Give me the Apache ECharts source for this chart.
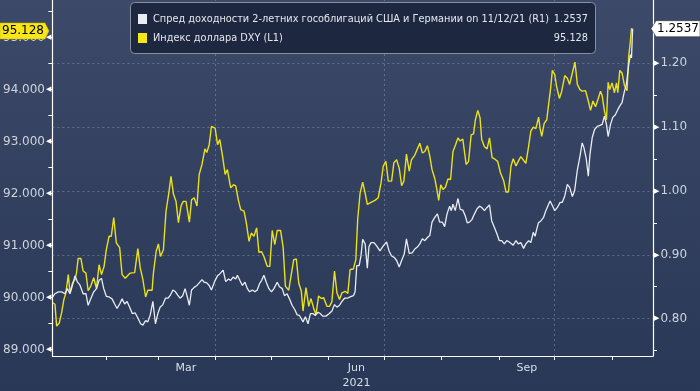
<!DOCTYPE html>
<html>
<head>
<meta charset="utf-8">
<script src="https://cdn.jsdelivr.net/npm/echarts@6/dist/echarts.min.js"></script>
<style>
html,body{margin:0;padding:0;background:#2c3a57;}
#chart{width:700px;height:391px;}
</style>
</head>
<body>
<div id="chart"></div>
<script>
// ---- DATA (days counted from 2021-01-01) ----
const dxyDays = [2.2,3.4,4.3,5.7,7.0,8.2,9.3,10.6,11.5,12.9,14.2,15.0,15.9,17.4,18.6,20.1,21.3,22.7,24.3,25.8,27.2,28.5,29.9,31.1,32.6,33.8,35.1,36.5,38.3,39.6,41.3,42.8,44.0,46.4,48.1,49.4,50.8,52.3,53.5,55.8,56.5,58.0,59.2,60.3,61.9,63.3,64.8,66.0,67.3,68.7,70.0,71.4,72.6,74.1,75.9,77.1,78.5,80.0,81.2,82.7,84.3,85.3,86.6,87.8,
89.8,91.1,92.3,93.8,95.2,96.4,98.2,99.7,100.9,102.3,103.6,105.4,106.6,108.1,109.3,110.7,112.2,113.4,114.9,116.1,117.9,119.3,120.6,122.0,123.3,125.1,126.5,127.7,129.5,131.0,132.2,133.6,134.9,136.3,137.2,138.8,140.3,141.5,142.9,144.2,145.6,147.1,148.3,150.1,151.5,152.8,154.2,155.5,156.9,158.2,159.9,161.4,162.6,164.4,165.7,166.7,168.0,169.4,170.7,171.9,173.4,
174.3,176.0,177.8,179.3,180.5,181.9,183.2,185.0,186.2,187.7,189.1,190.4,191.6,193.0,194.5,195.7,197.5,198.9,200.2,201.6,202.9,204.3,205.6,206.8,208.2,209.1,210.4,211.5,212.7,214.0,215.4,216.8,218.1,219.5,220.8,222.0,223.4,225.2,226.5,227.9,229.2,230.2,231.5,232.7,233.6,235.1,236.5,237.8,239.2,240.4,242.2,243.7,
245.5,246.7,248.0,249.4,250.6,252.1,253.3,254.7,256.0,257.4,258.9,260.1,261.4,262.8,264.3,265.1,266.0,267.3,268.7,269.9,270.8,271.7,273.0,274.0,275.5,276.7,278.4,279.8,281.0,282.5,283.9,285.2,286.6,287.8,289.6,290.9,292.3,293.6,295.0,296.3,297.7,298.6,299.8,300.9,301.8,302.7,303.9,305.2,306.3,307.0,308.1,309.3,310.6,312.0,312.9,313.8,314.4,315];
const dxyValues = [89.90,89.87,89.45,89.51,89.71,89.96,90.09,90.44,90.09,90.28,90.35,90.47,90.75,90.75,90.51,90.47,90.13,90.22,90.38,90.17,90.63,90.44,90.60,90.92,91.18,91.18,91.54,91.05,90.96,90.44,90.37,90.43,90.47,90.48,90.94,90.57,90.35,90.01,90.14,90.14,90.47,90.89,91.03,90.79,90.92,91.66,92.01,92.33,91.99,91.85,91.44,91.76,91.85,91.85,91.45,91.88,91.92,91.76,92.37,92.56,92.86,92.79,92.94,93.29,
93.26,92.94,93.04,92.72,92.37,92.46,92.11,92.17,92.15,91.88,91.69,91.66,91.44,91.08,91.24,91.18,91.34,90.87,90.88,90.79,90.60,90.60,91.29,91.02,91.29,91.29,90.96,90.22,90.14,90.47,90.73,90.74,90.28,90.12,89.74,90.19,89.83,89.98,89.80,89.67,90.03,89.98,90.00,89.83,89.83,89.92,90.51,90.09,89.96,90.09,90.12,90.08,90.54,90.55,90.73,91.50,92.01,92.22,92.01,91.79,91.82,
91.83,91.87,91.92,92.21,92.53,92.62,92.24,92.24,92.59,92.65,92.49,92.15,92.24,92.76,92.43,92.65,92.74,92.86,92.97,92.78,92.81,92.92,92.72,92.46,92.30,92.14,91.87,92.17,92.08,92.12,92.28,92.27,92.81,92.94,93.07,93.01,93.05,92.56,92.62,93.13,93.15,93.42,93.60,93.46,93.04,92.90,92.86,93.07,92.69,92.67,92.62,92.40,
92.24,92.03,92.03,92.53,92.67,92.53,92.62,92.71,92.65,92.58,92.91,93.20,93.28,93.25,93.47,93.25,93.10,93.35,93.42,93.78,94.03,94.37,94.29,94.06,93.83,93.96,94.27,94.22,94.10,94.32,94.53,94.10,94.00,93.97,93.98,93.81,93.60,93.78,93.67,93.81,93.97,93.88,93.59,93.42,94.14,94.00,94.13,93.94,94.13,93.94,94.37,94.32,94.08,93.98,94.64,94.93,95.18,95.128];

const spreadDays = [2.2,3.4,5.2,7.0,8.8,10.1,11.5,12.9,14.2,15.4,16.8,18.6,20.1,21.3,22.7,24.3,25.8,27.2,28.5,29.7,31.1,32.6,34.2,35.6,36.9,38.3,39.6,41.0,42.3,43.7,45.1,46.7,48.1,49.6,50.8,52.3,53.5,54.8,56.2,57.6,58.9,60.1,61.6,63.0,64.3,65.5,67.0,68.4,69.6,70.9,72.3,73.6,74.6,75.9,77.1,78.5,80.0,81.2,82.7,83.9,85.3,86.6,87.8,
88.4,89.8,91.1,92.3,94.1,95.5,97.0,98.2,99.5,100.9,101.8,103.1,104.5,105.9,107.2,108.4,109.9,111.3,112.5,113.8,114.9,116.1,117.4,118.8,120.2,121.5,123.3,124.5,126.0,127.2,128.6,129.9,131.3,132.8,134.0,135.3,136.3,137.2,138.5,139.9,141.2,142.6,143.8,145.3,146.5,147.8,149.6,151.4,152.8,154.2,155.5,156.9,158.2,159.6,161.2,162.6,164.4,165.3,166.2,167.5,168.5,169.4,170.7,171.9,172.8,173.9,
175.5,176.9,178.7,180.5,182.3,183.6,185.0,186.4,187.7,189.1,190.4,191.8,193.0,194.5,196.1,197.5,198.9,200.2,201.6,202.9,204.3,205.6,206.8,208.2,209.7,210.9,212.4,213.6,214.9,216.3,217.2,218.1,219.3,220.8,222.0,223.4,224.7,225.8,227.0,228.3,229.7,231.1,232.4,233.6,235.1,236.5,237.8,239.0,240.4,241.9,243.1,244.4,245.8,247.1,248.5,
249.4,250.6,252.1,253.3,254.7,256.2,257.4,258.9,260.1,261.4,262.4,263.3,264.2,265.5,266.9,268.2,269.4,270.5,271.7,273.0,274.4,275.9,277.1,278.4,279.8,281.1,282.5,283.7,285.2,286.6,287.8,288.7,290.0,291.1,292.0,293.2,294.5,295.9,297.1,298.6,299.8,300.9,301.8,303.1,304.3,305.7,307.0,308.1,309.3,310.6,311.6,312.9,313.8,314.4,315];
const spreadValues = [0.834,0.839,0.842,0.842,0.839,0.847,0.839,0.853,0.867,0.858,0.853,0.839,0.839,0.821,0.831,0.842,0.847,0.860,0.863,0.847,0.835,0.834,0.831,0.823,0.816,0.823,0.831,0.823,0.827,0.818,0.808,0.809,0.801,0.792,0.790,0.797,0.795,0.806,0.827,0.792,0.808,0.818,0.822,0.832,0.832,0.836,0.845,0.842,0.837,0.832,0.836,0.847,0.836,0.821,0.845,0.849,0.852,0.856,0.861,0.857,0.856,0.852,0.845,
0.843,0.860,0.867,0.870,0.876,0.858,0.862,0.860,0.865,0.862,0.868,0.860,0.852,0.857,0.847,0.842,0.845,0.842,0.845,0.855,0.860,0.868,0.857,0.847,0.842,0.847,0.857,0.850,0.847,0.836,0.839,0.831,0.821,0.814,0.806,0.805,0.808,0.795,0.803,0.792,0.808,0.808,0.805,0.810,0.808,0.804,0.804,0.808,0.812,0.822,0.818,0.821,0.827,0.832,0.832,0.834,0.836,0.842,0.883,0.883,0.899,0.924,0.917,0.879,0.913,0.919,
0.919,0.914,0.906,0.914,0.920,0.906,0.898,0.896,0.891,0.881,0.891,0.901,0.925,0.902,0.903,0.909,0.912,0.917,0.925,0.922,0.927,0.930,0.951,0.958,0.964,0.951,0.951,0.944,0.964,0.976,0.969,0.979,0.969,0.988,0.971,0.970,0.961,0.950,0.951,0.955,0.964,0.972,0.976,0.974,0.969,0.974,0.978,0.953,0.943,0.932,0.922,0.922,0.917,0.922,0.920,
0.922,0.915,0.922,0.917,0.919,0.910,0.917,0.922,0.919,0.935,0.929,0.940,0.950,0.953,0.958,0.969,0.977,0.984,0.977,0.969,0.974,0.982,0.982,0.992,1.010,1.005,0.991,1.000,1.033,1.054,1.075,1.068,1.050,1.023,1.057,1.083,1.096,1.101,1.102,1.104,1.117,1.104,1.085,1.104,1.115,1.119,1.127,1.133,1.138,1.156,1.166,1.197,1.213,1.208,1.2537];

const leftTicks = [89,90,91,92,93,94,95];
const rightTicks = [0.8,0.9,1.0,1.1,1.2];
const monthStarts = ['2021-02-01','2021-03-01','2021-04-01','2021-05-01','2021-06-01','2021-07-01','2021-08-01','2021-09-01','2021-10-01','2021-11-01'];
const quarterLines = ['2021-04-01','2021-07-01','2021-10-01'];
const monthLabels = [['2021-03-16','Mar'],['2021-06-16','Jun\n2021'],['2021-09-16','Sep']];
const legendNames = ['Спред доходности 2-летних гособлигаций США и Германии on 11/12/21 (R1)','Индекс доллара DXY (L1)'];
const lastValues = ['1.2537','95.128'];

// ---- helpers ----
const DAY = 86400000;
const base = Date.UTC(2021,0,1);
const ts = d => base + d*DAY;
const dts = s => Date.parse(s + 'T00:00:00Z');
const dxyData = dxyDays.map((d,i)=>[ts(d), dxyValues[i]]);
const spreadData = spreadDays.map((d,i)=>[ts(d), spreadValues[i]]);
const lHalves = []; for (let v=89; v<=95.51; v+=0.5) lHalves.push(+v.toFixed(2));
const rHalves = []; for (let v=0.75; v<=1.251; v+=0.05) rHalves.push(+v.toFixed(2));
const labelMap = {}; monthLabels.forEach(m=>labelMap[dts(m[0])]=m[1]);

const YELLOW = '#ebe01c';
const WHITE = '#e9ecf3';
const GRIDC = 'rgba(150,165,195,0.45)';
const FONT = 'DejaVu Sans';

const chart = echarts.init(document.getElementById('chart'), null, {renderer:'canvas'});
const option = {
  animation:false,
  backgroundColor:{type:'linear',x:0,y:0,x2:0,y2:1,colorStops:[{offset:0,color:'#3c4968'},{offset:1,color:'#293856'}]},
  grid:{left:49,right:47,top:0,bottom:33.5,containLabel:false},
  xAxis:{
    type:'value',
    min:ts(2.0), max:ts(326),
    axisLine:{show:true,lineStyle:{color:'#ffffff',width:1.2}},
    axisTick:{show:true,length:4,inside:false,lineStyle:{color:'#ffffff'},customValues:monthStarts.map(dts)},
    axisLabel:{show:true,customValues:monthLabels.map(m=>dts(m[0])),color:'#d9dde6',fontFamily:FONT,fontSize:11,lineHeight:15,margin:5,
      formatter:v=>labelMap[v]||''},
    splitLine:{show:false}
  },
  yAxis:[
    {type:'value',position:'left',min:88.875,max:95.724,
     axisLine:{show:true,lineStyle:{color:'#ffffff',width:1.2}},
     axisTick:{show:true,length:4,inside:false,lineStyle:{color:'#ffffff'},customValues:lHalves},
     axisLabel:{show:true,customValues:leftTicks,margin:1,
       formatter:v=>'{t|'+v.toFixed(3)+'}{a|◀}',
       rich:{t:{color:'#cfd3dc',fontFamily:FONT,fontSize:12},a:{color:'#ffffff',fontSize:7,fontFamily:FONT,padding:[0,0,0,1]}}},
     splitLine:{show:false}},
    {type:'value',position:'right',min:0.7416,max:1.2986,
     axisLine:{show:true,lineStyle:{color:'#ffffff',width:1.2}},
     axisTick:{show:true,length:4,inside:false,lineStyle:{color:'#ffffff'},customValues:rHalves},
     axisLabel:{show:true,customValues:rightTicks,margin:1,
       formatter:v=>'{a|▶}{t|'+v.toFixed(2)+'}',
       rich:{t:{color:'#cfd3dc',fontFamily:FONT,fontSize:12},a:{color:'#ffffff',fontSize:7,fontFamily:FONT,padding:[0,1,0,0]}}},
     splitLine:{show:false}}
  ],
  series:[
    {type:'line',name:legendNames[1],yAxisIndex:0,data:dxyData,showSymbol:false,z:2,
     lineStyle:{color:YELLOW,width:1.4},
     markLine:{silent:true,symbol:'none',z:1,label:{show:false},animation:false,
       lineStyle:{color:GRIDC,type:[2,3],width:1},
       data:quarterLines.map(s=>({xAxis:dts(s)}))}},
    {type:'line',name:legendNames[0],yAxisIndex:1,data:spreadData,showSymbol:false,z:3,
     lineStyle:{color:WHITE,width:1.3},
     markLine:{silent:true,symbol:'none',z:1,label:{show:false},animation:false,
       lineStyle:{color:GRIDC,type:[2,3],width:1},
       data:rightTicks.map(v=>({yAxis:v}))}}
  ]
};
chart.setOption(option);

// tags on axes & legend box
const yL = chart.convertToPixel({yAxisIndex:0}, dxyValues[dxyValues.length-1]);
const yR = chart.convertToPixel({yAxisIndex:1}, spreadValues[spreadValues.length-1]);
const LF = '11px "Liberation Sans Narrow", "DejaVu Sans"';
const mctx = document.createElement('canvas').getContext('2d');
mctx.font = LF;
const sx = Math.min(1, 396 / mctx.measureText(legendNames[0]).width);
const legText = (txt, x, y, align) => ({type:'text',z:101,x:x,y:y,scaleX:sx,
  style:{text:txt,fill:'#e4e7ee',font:LF,textAlign:align||'left',textVerticalAlign:'middle'}});
chart.setOption({graphic:[
  {type:'polygon',z:100,shape:{points:[[0,yL-8],[45,yL-8],[49,yL],[45,yL+8],[0,yL+8]]},style:{fill:'#f7e61a',stroke:'#c9b800',lineWidth:0.5}},
  {type:'text',z:101,x:2,y:yL,style:{text:lastValues[1],fill:'#000000',font:'12px "DejaVu Sans"',textVerticalAlign:'middle'}},
  {type:'polygon',z:100,shape:{points:[[651,yR],[656,yR-8],[700,yR-8],[700,yR+8],[656,yR+8]]},style:{fill:'#ffffff',stroke:'#222222',lineWidth:0.5}},
  {type:'text',z:101,x:657,y:yR,style:{text:lastValues[0],fill:'#000000',font:'12px "DejaVu Sans"',textVerticalAlign:'middle'}},
  {type:'rect',z:100,shape:{x:130.5,y:2.5,width:465,height:51,r:4},style:{fill:'#1d2840',stroke:'#8790a3',lineWidth:1}},
  {type:'rect',z:101,shape:{x:138,y:14,width:9,height:10},style:{fill:WHITE}},
  {type:'rect',z:101,shape:{x:138,y:33,width:9,height:10},style:{fill:'#f7e61a'}},
  legText(legendNames[0],153,19.5),
  legText(legendNames[1],153,38.5),
  legText(lastValues[0],588,19.5,'right'),
  legText(lastValues[1],588,38.5,'right')
]});
</script>
</body>
</html>
